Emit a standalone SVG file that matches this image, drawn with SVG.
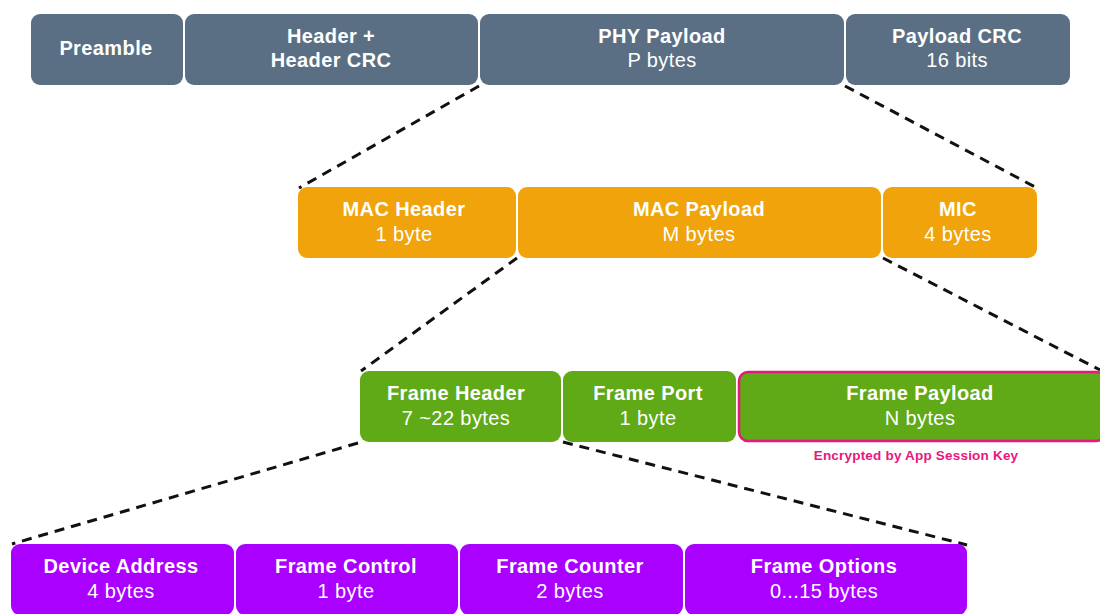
<svg xmlns="http://www.w3.org/2000/svg" width="1100" height="614" viewBox="0 0 1100 614">
<style>
text{font-family:"Liberation Sans",Arial,sans-serif;fill:#fff;text-anchor:middle;font-size:20px;letter-spacing:0.4px}
.t{font-weight:bold}
.phy{fill:#5b6f84}
.mac{fill:#f0a30a}
.frm{fill:#60a917}
.fh{fill:#aa00ff}
.dash{stroke:#111;stroke-width:3;stroke-dasharray:10 7;fill:none}
.note{fill:#e8177d;font-size:13.5px;font-weight:bold;letter-spacing:0.2px}
</style>
<rect width="1100" height="614" fill="#fff"/>
<g id="connectors">
<line class="dash" x1="479" y1="86" x2="299" y2="188"/>
<line class="dash" x1="845" y1="86" x2="1037" y2="188"/>
<line class="dash" x1="517" y1="258" x2="361" y2="371"/>
<line class="dash" x1="883" y1="258" x2="1100" y2="370"/>
<line class="dash" x1="358" y1="443" x2="12" y2="544"/>
<line class="dash" x1="563" y1="442" x2="967" y2="545"/>
</g>
<g id="preamble"><rect class="phy" x="31" y="14" width="152" height="71" rx="9"/><text class="t" x="106" y="55">Preamble</text></g>
<g id="header"><rect class="phy" x="185" y="14" width="293" height="71" rx="9"/><text class="t" x="331" y="43">Header +</text><text class="t" x="331" y="67">Header CRC</text></g>
<g id="phy-payload"><rect class="phy" x="480" y="14" width="364" height="71" rx="9"/><text class="t" x="662" y="43">PHY Payload</text><text x="662" y="67">P bytes</text></g>
<g id="payload-crc"><rect class="phy" x="846" y="14" width="224" height="71" rx="9"/><text class="t" x="957" y="43">Payload CRC</text><text x="957" y="67">16 bits</text></g>
<g id="mac-header"><rect class="mac" x="298" y="187" width="218" height="71" rx="9"/><text class="t" x="404" y="216">MAC Header</text><text x="404" y="241">1 byte</text></g>
<g id="mac-payload"><rect class="mac" x="518" y="187" width="363" height="71" rx="9"/><text class="t" x="699" y="216">MAC Payload</text><text x="699" y="241">M bytes</text></g>
<g id="mic"><rect class="mac" x="883" y="187" width="154" height="71" rx="9"/><text class="t" x="958" y="216">MIC</text><text x="958" y="241">4 bytes</text></g>
<g id="frame-header"><rect class="frm" x="360" y="371" width="201" height="71" rx="9"/><text class="t" x="456" y="400">Frame Header</text><text x="456" y="425">7 ~22 bytes</text></g>
<g id="frame-port"><rect class="frm" x="563" y="371" width="173" height="71" rx="9"/><text class="t" x="648" y="400">Frame Port</text><text x="648" y="425">1 byte</text></g>
<g id="frame-payload"><rect class="frm" x="739" y="372" width="366" height="69" rx="9" stroke="#e8177d" stroke-width="2.5"/><text class="t" x="920" y="400">Frame Payload</text><text x="920" y="425">N bytes</text><text class="note" x="916" y="460">Encrypted by App Session Key</text></g>
<g id="device-address"><rect class="fh" x="11" y="544" width="223" height="71" rx="9"/><text class="t" x="121" y="573">Device Address</text><text x="121" y="598">4 bytes</text></g>
<g id="frame-control"><rect class="fh" x="236" y="544" width="222" height="71" rx="9"/><text class="t" x="346" y="573">Frame Control</text><text x="346" y="598">1 byte</text></g>
<g id="frame-counter"><rect class="fh" x="460" y="544" width="223" height="71" rx="9"/><text class="t" x="570" y="573">Frame Counter</text><text x="570" y="598">2 bytes</text></g>
<g id="frame-options"><rect class="fh" x="685" y="544" width="282" height="71" rx="9"/><text class="t" x="824" y="573">Frame Options</text><text x="824" y="598">0...15 bytes</text></g>
</svg>
